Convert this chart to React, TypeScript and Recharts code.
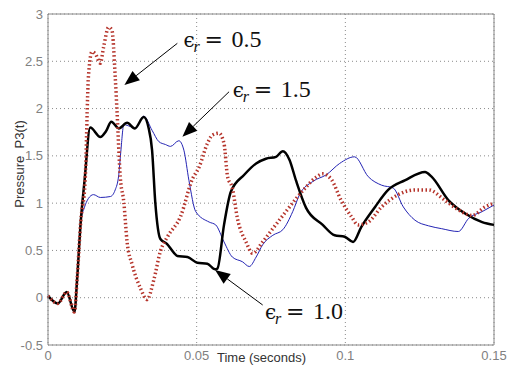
import { LineChart, Line, XAxis, YAxis, CartesianGrid, ReferenceLine, ReferenceDot } from "recharts";

// Pressure P3(t) against time (s) for three relative permittivities
const T_ER05 = [
    0, 0.0033, 0.0063, 0.0089, 0.0098, 0.011, 0.0125, 0.0136, 0.0148, 0.0159, 0.0176, 0.0187,
    0.0204, 0.0215, 0.0226, 0.0232, 0.0243, 0.0255, 0.0266, 0.0283, 0.0311, 0.0333, 0.0356,
    0.0378, 0.0402, 0.0446, 0.0485, 0.0508, 0.0536, 0.0553, 0.0575, 0.0592, 0.0604, 0.062,
    0.0637, 0.0666, 0.0688, 0.0722, 0.0756, 0.08, 0.0835, 0.0868, 0.09, 0.0924, 0.0953, 0.0986,
    0.102, 0.1043, 0.1077, 0.1122, 0.1178, 0.1234, 0.128, 0.1335, 0.138, 0.1426, 0.147, 0.15,
];
const P_ER05 = [
    0.02, -0.06, 0.06, -0.15, 0.2, 0.8, 1.24, 2.34, 2.6, 2.58, 2.48, 2.65,
    2.86, 2.83, 2.34, 1.98, 1.28, 1.01, 0.59, 0.35, 0.1, -0.02, 0.19,
    0.49, 0.645, 0.86, 1.25, 1.38, 1.63, 1.72, 1.74, 1.63, 1.28, 1.16,
    0.84, 0.59, 0.47, 0.59, 0.73, 0.91, 1.05, 1.17, 1.27, 1.31, 1.25, 1.03,
    0.86, 0.77, 0.8, 0.96, 1.09, 1.14, 1.14, 1.03, 0.93, 0.87, 0.96, 1.0,
];

const T_ER10 = [
    0, 0.0033, 0.0063, 0.0089, 0.0098, 0.011, 0.0123, 0.0142, 0.0176, 0.0195, 0.0213, 0.0238,
    0.0266, 0.0292, 0.0322, 0.0338, 0.035, 0.0361, 0.0378, 0.04, 0.0425, 0.0435, 0.0469, 0.0502,
    0.0536, 0.0562, 0.057, 0.0592, 0.0615, 0.066, 0.07, 0.0733, 0.0767, 0.079, 0.0812, 0.0834,
    0.0868, 0.0924, 0.0964, 0.0998, 0.1026, 0.1054, 0.11, 0.1144, 0.12, 0.1268, 0.129, 0.1347,
    0.1403, 0.146, 0.15,
];
const P_ER10 = [
    0.02, -0.06, 0.06, -0.15, 0.2, 0.8, 1.24, 1.8, 1.7, 1.76, 1.86, 1.79,
    1.85, 1.79, 1.91, 1.8, 1.56, 1.0, 0.62, 0.57, 0.47, 0.44, 0.43, 0.37,
    0.36, 0.3, 0.31, 0.77, 1.12, 1.3, 1.42, 1.47, 1.49, 1.55, 1.46, 1.24,
    0.95, 0.77, 0.66, 0.645, 0.59, 0.75, 0.96, 1.14, 1.24, 1.33, 1.28, 1.03,
    0.89, 0.8, 0.77,
];

const T_ER15 = [
    0, 0.0033, 0.0063, 0.0089, 0.0098, 0.011, 0.0122, 0.0136, 0.0153, 0.0176, 0.021, 0.0226,
    0.0238, 0.0245, 0.0255, 0.0277, 0.0294, 0.0322, 0.035, 0.0373, 0.0395, 0.0412, 0.044, 0.0457,
    0.0474, 0.0497, 0.0542, 0.0564, 0.0592, 0.062, 0.0654, 0.0677, 0.07, 0.0722, 0.0756, 0.079,
    0.0823, 0.0846, 0.0891, 0.0936, 0.0981, 0.1031, 0.1077, 0.1122, 0.1161, 0.1195, 0.1234, 0.128,
    0.1324, 0.138, 0.1415, 0.146, 0.15,
];
const P_ER15 = [
    0.02, -0.06, 0.06, -0.15, 0.2, 0.8, 0.95, 1.05, 1.09, 1.06, 1.07, 1.14,
    1.3, 1.55, 1.83, 1.81, 1.79, 1.92, 1.77, 1.65, 1.62, 1.6, 1.66, 1.56,
    1.24, 0.91, 0.8, 0.77, 0.59, 0.43, 0.38, 0.33, 0.43, 0.56, 0.66, 0.72,
    0.91, 1.09, 1.23, 1.3, 1.42, 1.49, 1.28, 1.19, 1.16, 0.96, 0.82, 0.76,
    0.73, 0.7, 0.84, 0.91, 0.98,
];

const X_TICKS = [0, 0.05, 0.1, 0.15];
const Y_TICKS = [-0.5, 0, 0.5, 1, 1.5, 2, 2.5, 3];

// annotations: epsilon_r value, text anchor and arrow (tail -> tip), in data units
const LABEL_VALUES = ["0.5", "1.5", "1.0"];
const LABEL_T = [0.0456, 0.0621, 0.073];
const LABEL_P = [2.653, 2.118, -0.228];
const ARROW_FROM_T = [0.0435, 0.0609, 0.0722];
const ARROW_FROM_P = [2.69, 2.178, -0.077];
const ARROW_TO_T = [0.0257, 0.0452, 0.0562];
const ARROW_TO_P = [2.25, 1.702, 0.294];

const toPoints = (t: number[], p: number[]) => t.map((x, i) => ({ t: x, p: p[i] }));

const SANS = "'Liberation Sans', Arial, sans-serif";
const SERIF = "'Liberation Serif', 'DejaVu Serif', serif";

const Arrow = (props: any) => {
    const { x1, y1, x2, y2 } = props;
    const dx = x2 - x1;
    const dy = y2 - y1;
    const len = Math.hypot(dx, dy);
    const ux = dx / len;
    const uy = dy / len;
    const head = 15;
    const half = 6;
    const bx = x2 - ux * head;
    const by = y2 - uy * head;
    return (
        <g>
            <line x1={x1} y1={y1} x2={bx} y2={by} stroke="#000" strokeWidth={1} />
            <polygon
                points={`${x2},${y2} ${bx - uy * half},${by + ux * half} ${bx + uy * half},${by - ux * half}`}
                fill="#000"
            />
        </g>
    );
};

const EpsLabel = ({ cx, cy, value }: any) => (
    <g fill="#111">
        <text x={cx} y={cy} fontFamily="'DejaVu Serif', serif" fontSize={20}>ϵ</text>
        <text x={cx + 10} y={cy + 5} fontFamily={SERIF} fontStyle="italic" fontSize={16}>r</text>
        <text x={cx + 21} y={cy} fontFamily="'DejaVu Serif', serif" fontSize={22}>=</text>
        <text x={cx + 48} y={cy} fontFamily={SERIF} fontSize={24}>{value}</text>
    </g>
);

export default function App() {
    return (
        <div style={{ position: "absolute", left: 0, top: 0, width: 515, height: 367, background: "#fff" }}>
            <LineChart width={515} height={367} margin={{ top: 14, right: 21, bottom: 0, left: 0 }}>
                <CartesianGrid stroke="#8a8a8a" strokeDasharray="1 3" />
                <XAxis
                    dataKey="t"
                    type="number"
                    domain={[0, 0.15]}
                    ticks={X_TICKS}
                    height={22}
                    tickSize={0}
                    tickMargin={6}
                    stroke="#888"
                    tick={{ fill: "#808080", fontSize: 13, fontFamily: SANS }}
                    label={{
                        content: () => (
                            <text x={217} y={362} fill="#333" fontSize={13} fontFamily={SANS}>
                                Time (seconds)
                            </text>
                        ),
                    }}
                />
                <YAxis
                    type="number"
                    domain={[-0.5, 3]}
                    ticks={Y_TICKS}
                    width={48}
                    tickSize={0}
                    tickMargin={5}
                    stroke="#888"
                    tick={{ fill: "#808080", fontSize: 13, fontFamily: SANS }}
                    label={{
                        content: () => (
                            <text
                                x={24}
                                y={164}
                                transform="rotate(-90 24 164)"
                                textAnchor="middle"
                                fill="#333"
                                fontSize={13}
                                fontFamily={SANS}
                                style={{ whiteSpace: "pre" }}
                            >
                                Pressure  P3(t)
                            </text>
                        ),
                    }}
                />
                <ReferenceLine y={3} stroke="#888" strokeWidth={1} />
                <ReferenceLine x={0.15} stroke="#888" strokeWidth={1} />
                <Line
                    data={toPoints(T_ER15, P_ER15)}
                    dataKey="p"
                    type="monotone"
                    stroke="#2424b4"
                    strokeWidth={1}
                    dot={false}
                    activeDot={false}
                    isAnimationActive={false}
                />
                <Line
                    data={toPoints(T_ER10, P_ER10)}
                    dataKey="p"
                    type="monotone"
                    stroke="#000"
                    strokeWidth={2.5}
                    dot={false}
                    activeDot={false}
                    isAnimationActive={false}
                />
                <Line
                    data={toPoints(T_ER05, P_ER05)}
                    dataKey="p"
                    type="monotone"
                    stroke="#b5332a"
                    strokeWidth={3.5}
                    strokeDasharray="1.5 2.5"
                    dot={false}
                    activeDot={false}
                    isAnimationActive={false}
                />
                {LABEL_VALUES.map((v, i) => (
                    <ReferenceLine
                        key={`arrow-${v}`}
                        segment={[
                            { x: ARROW_FROM_T[i], y: ARROW_FROM_P[i] },
                            { x: ARROW_TO_T[i], y: ARROW_TO_P[i] },
                        ]}
                        shape={Arrow}
                    />
                ))}
                {LABEL_VALUES.map((v, i) => (
                    <ReferenceDot
                        key={`label-${v}`}
                        x={LABEL_T[i]}
                        y={LABEL_P[i]}
                        r={0}
                        shape={(p: any) => <EpsLabel cx={p.cx} cy={p.cy} value={v} />}
                    />
                ))}
            </LineChart>
        </div>
    );
}
